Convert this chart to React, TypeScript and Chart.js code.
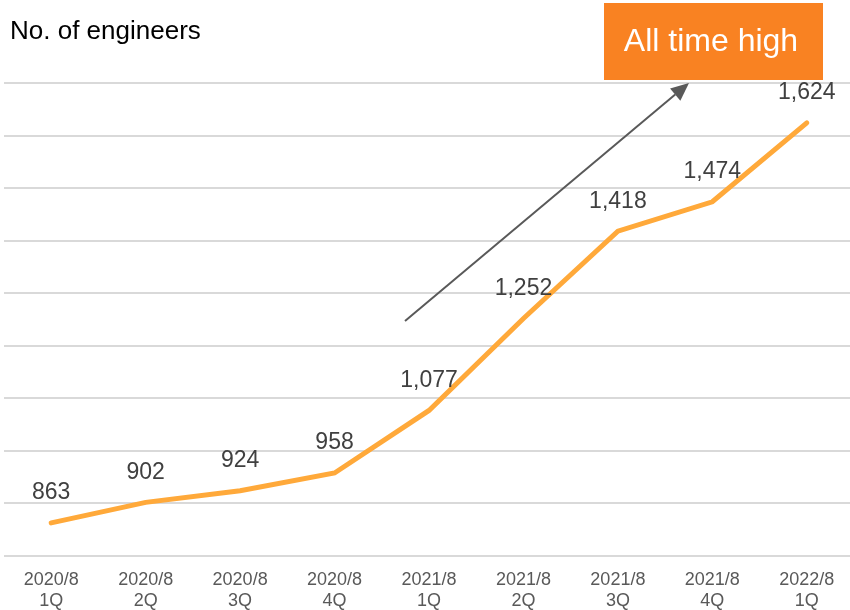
import React, { useEffect, useRef } from "react";
import { Chart, registerables } from "chart.js";

Chart.register(...registerables);

const categories: string[][] = [
  ["2020/8", "1Q"],
  ["2020/8", "2Q"],
  ["2020/8", "3Q"],
  ["2020/8", "4Q"],
  ["2021/8", "1Q"],
  ["2021/8", "2Q"],
  ["2021/8", "3Q"],
  ["2021/8", "4Q"],
  ["2022/8", "1Q"],
];
const engineers: number[] = [863, 902, 924, 958, 1077, 1252, 1418, 1474, 1624];
const titleText = "No. of engineers";
const badgeText = "All time high";
const yMin = 800;
const yMax = 1700;
const yStep = 100;

const FONT = "Arial, 'Liberation Sans', sans-serif";

const overlayPlugin = {
  id: "overlay",
  afterDatasetsDraw(chart: any) {
    const ctx = chart.ctx;
    const meta = chart.getDatasetMeta(0);
    ctx.save();
    // data labels
    ctx.font = `23px ${FONT}`;
    ctx.fillStyle = "#404040";
    ctx.textAlign = "center";
    ctx.textBaseline = "middle";
    meta.data.forEach((pt: any, i: number) => {
      ctx.fillText(engineers[i].toLocaleString("en-US"), pt.x, pt.y - 30);
    });
    // title
    ctx.font = `26px ${FONT}`;
    ctx.fillStyle = "#000000";
    ctx.textAlign = "left";
    ctx.textBaseline = "alphabetic";
    ctx.fillText(titleText, 10, 39);
    // badge
    ctx.fillStyle = "#F98222";
    ctx.fillRect(604, 3, 219, 77);
    ctx.fillStyle = "#FFFFFF";
    ctx.font = `32px ${FONT}`;
    ctx.textAlign = "center";
    ctx.textBaseline = "middle";
    ctx.fillText(badgeText, 711, 42);
    // arrow
    const x1 = 405, y1 = 321, x2 = 689, y2 = 83;
    const ang = Math.atan2(y2 - y1, x2 - x1);
    const headLen = 18, headW = 8;
    const bx = x2 - headLen * Math.cos(ang);
    const by = y2 - headLen * Math.sin(ang);
    ctx.strokeStyle = "#595959";
    ctx.lineWidth = 2;
    ctx.beginPath();
    ctx.moveTo(x1, y1);
    ctx.lineTo(bx, by);
    ctx.stroke();
    ctx.fillStyle = "#595959";
    ctx.beginPath();
    ctx.moveTo(x2, y2);
    ctx.lineTo(bx + headW * Math.sin(ang), by - headW * Math.cos(ang));
    ctx.lineTo(bx - headW * Math.sin(ang), by + headW * Math.cos(ang));
    ctx.closePath();
    ctx.fill();
    ctx.restore();
  },
};

export default function App() {
  const ref = useRef<HTMLCanvasElement | null>(null);
  useEffect(() => {
    if (!ref.current) return;
    const chart = new Chart(ref.current, {
      type: "line",
      data: {
        labels: categories,
        datasets: [
          {
            data: engineers,
            borderColor: "#FFA93A",
            borderWidth: 5,
            borderCapStyle: "round",
            borderJoinStyle: "miter",
            pointRadius: 0,
            tension: 0,
            fill: false,
          },
        ],
      },
      options: {
        responsive: false,
        animation: false,
        layout: { padding: { top: 83, left: 4, right: 0, bottom: 0 } },
        plugins: { legend: { display: false }, tooltip: { enabled: false } },
        scales: {
          x: {
            offset: true,
            grid: { display: false, drawTicks: false },
            border: { display: false },
            ticks: {
              color: "#595959",
              font: { family: FONT, size: 18, lineHeight: 1.2 },
              padding: 13,
              maxRotation: 0,
              autoSkip: false,
            },
            afterFit: (s: any) => {
              s.height = 54;
            },
          },
          y: {
            min: yMin,
            max: yMax,
            ticks: { display: false, stepSize: yStep },
            grid: { color: "#D9D9D9", lineWidth: 2, drawTicks: false },
            border: { display: false },
          },
        },
      },
      plugins: [overlayPlugin],
    });
    return () => chart.destroy();
  }, []);
  return (
    <div style={{ position: "absolute", left: 0, top: 0, width: 850, height: 610, overflow: "hidden", background: "#fff" }}>
      <canvas ref={ref} width={854} height={610} style={{ display: "block" }} />
    </div>
  );
}
